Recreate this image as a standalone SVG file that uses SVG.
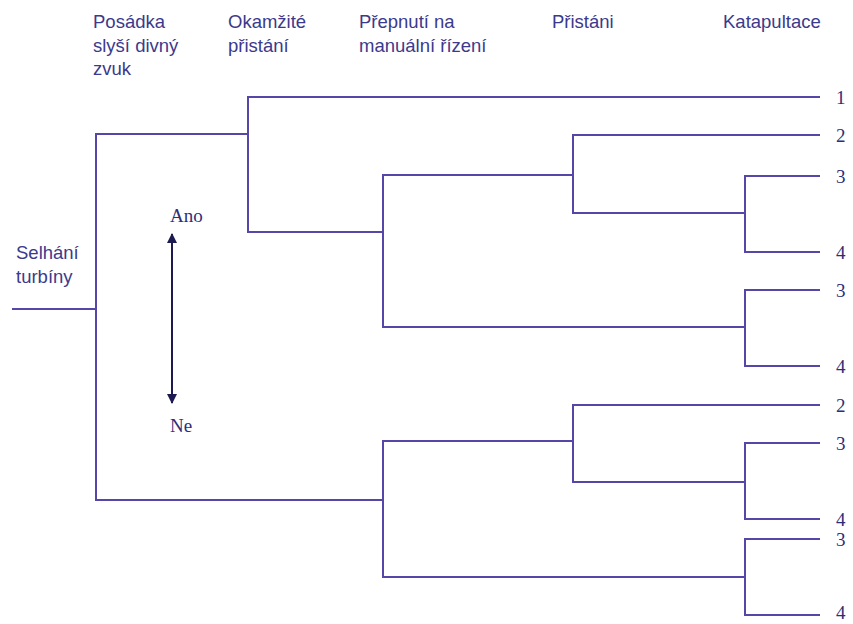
<svg xmlns="http://www.w3.org/2000/svg" width="853" height="624" viewBox="0 0 853 624">
  <defs>
    <style>
      .hdr { font-family: "Liberation Sans", Arial, sans-serif; font-size: 18.5px; fill: #3b3a8c; }
      .lbl { font-family: "Liberation Serif", "Times New Roman", serif; font-size: 19px; fill: #2f2d78; }
      .edge { fill: none; stroke: #5546a8; stroke-width: 2; }
      .arrow { stroke: #1c1a50; stroke-width: 2; }
    </style>
    <marker id="ah" viewBox="0 0 10 10" refX="9" refY="5" markerWidth="5" markerHeight="5" orient="auto-start-reverse" markerUnits="strokeWidth">
      <path d="M0,0 L10,5 L0,10 z" fill="#1c1a50"/>
    </marker>
  </defs>
  <rect width="853" height="624" fill="#ffffff"/>

  <g id="headers">
    <text class="hdr" x="93" y="28">Posádka</text>
    <text class="hdr" x="93" y="52">slyší divný</text>
    <text class="hdr" x="93" y="75">zvuk</text>
    <text class="hdr" x="228" y="28">Okamžité</text>
    <text class="hdr" x="228" y="52">přistání</text>
    <text class="hdr" x="359" y="28">Přepnutí na</text>
    <text class="hdr" x="359" y="52">manuální řízení</text>
    <text class="hdr" x="552" y="28">Přistáni</text>
    <text class="hdr" x="723" y="28">Katapultace</text>
  </g>

  <g id="root">
    <text class="hdr" x="16" y="259">Selhání</text>
    <text class="hdr" x="16" y="283">turbíny</text>
  </g>

  <g id="legend">
    <line class="arrow" x1="172" y1="300" x2="172" y2="234" marker-end="url(#ah)"/>
    <line class="arrow" x1="172" y1="300" x2="172" y2="403" marker-end="url(#ah)"/>
    <text class="lbl" x="170" y="222">Ano</text>
    <text class="lbl" x="170" y="432">Ne</text>
  </g>

  <g id="connectors">
    <path class="edge" d="M12,309 H96"/>
    <path class="edge" d="M248,134 H96 V500 H383"/>
    <path class="edge" d="M820,97 H248 V232 H383"/>
    <path class="edge" d="M573,175 H383 V327 H745"/>
    <path class="edge" d="M820,135 H573 V213 H745"/>
    <path class="edge" d="M820,176 H745 V252 H820"/>
    <path class="edge" d="M820,290 H745 V366 H820"/>
    <path class="edge" d="M573,441 H383 V577 H745"/>
    <path class="edge" d="M820,405 H573 V482 H745"/>
    <path class="edge" d="M820,443 H745 V519 H820"/>
    <path class="edge" d="M820,539 H745 V615 H820"/>
  </g>

  <g id="outcomes">
    <text class="lbl" x="836" y="104">1</text>
    <text class="lbl" x="836" y="142">2</text>
    <text class="lbl" x="836" y="183">3</text>
    <text class="lbl" x="836" y="259">4</text>
    <text class="lbl" x="836" y="297">3</text>
    <text class="lbl" x="836" y="373">4</text>
    <text class="lbl" x="836" y="412">2</text>
    <text class="lbl" x="836" y="450">3</text>
    <text class="lbl" x="836" y="526">4</text>
    <text class="lbl" x="836" y="546">3</text>
    <text class="lbl" x="836" y="619">4</text>
  </g>
</svg>
